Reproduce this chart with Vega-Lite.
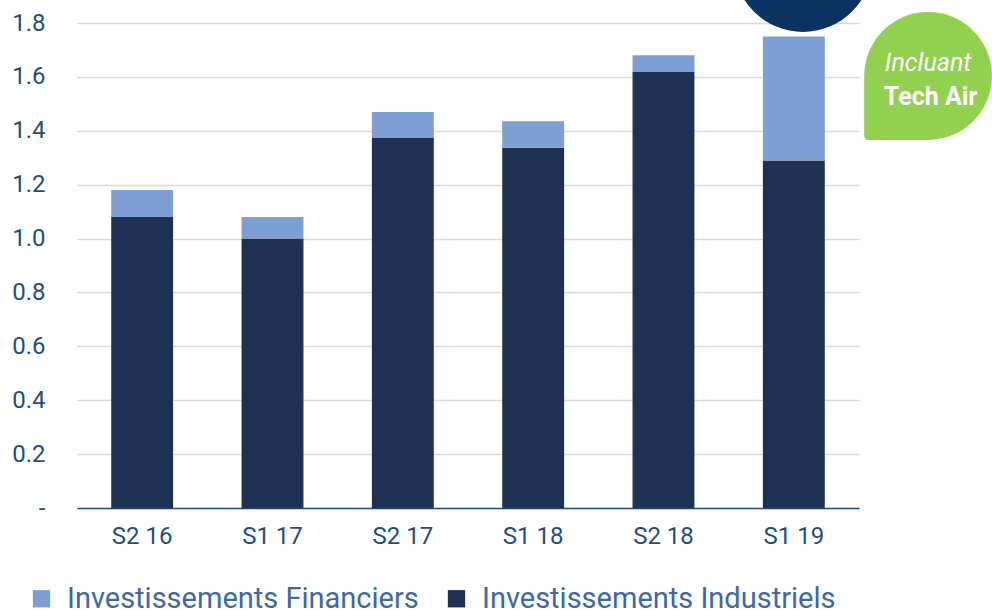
{
  "$schema": "https://vega.github.io/schema/vega-lite/v6.json",
  "width": 782,
  "height": 485,
  "autosize": "none",
  "padding": {"left": 77, "top": 23, "right": 133, "bottom": 102},
  "background": "white",
  "config": {"view": {"stroke": null}, "font": "Roboto"},
  "datasets": {
    "bars": [
      {"period": "S2 16", "type": "Investissements Industriels", "value": 1.08},
      {"period": "S2 16", "type": "Investissements Financiers", "value": 0.10},
      {"period": "S1 17", "type": "Investissements Industriels", "value": 1.00},
      {"period": "S1 17", "type": "Investissements Financiers", "value": 0.08},
      {"period": "S2 17", "type": "Investissements Industriels", "value": 1.375},
      {"period": "S2 17", "type": "Investissements Financiers", "value": 0.095},
      {"period": "S1 18", "type": "Investissements Industriels", "value": 1.337},
      {"period": "S1 18", "type": "Investissements Financiers", "value": 0.098},
      {"period": "S2 18", "type": "Investissements Industriels", "value": 1.62},
      {"period": "S2 18", "type": "Investissements Financiers", "value": 0.06},
      {"period": "S1 19", "type": "Investissements Industriels", "value": 1.29},
      {"period": "S1 19", "type": "Investissements Financiers", "value": 0.46}
    ],
    "badge": [{"x": 6.04, "x2": 7.02, "y": 1.841, "y2": 1.366}],
    "circle": [{"x": 5.57, "y": 2.025}],
    "label1": [{"x": 6.53, "y": 1.652, "text": "Incluant"}],
    "label2": [{"x": 6.55, "y": 1.526, "text": "Tech Air"}]
  },
  "layer": [
    {
      "data": {"name": "bars"},
      "mark": {"type": "bar"},
      "encoding": {
        "x": {
          "field": "period", "type": "nominal", "sort": null,
          "scale": {"paddingInner": 0.525, "paddingOuter": 0.2625},
          "axis": {
            "title": null, "labelAngle": 0, "labelFontSize": 24, "labelColor": "#1F4E79",
            "labelFont": "Roboto", "ticks": false, "domainColor": "#1F4E79", "domainWidth": 1.5,
            "labelPadding": 16
          }
        },
        "y": {
          "field": "value", "type": "quantitative", "aggregate": "sum", "stack": "zero",
          "scale": {"domain": [0, 1.8], "nice": false},
          "axis": {
            "title": null, "values": [0, 0.2, 0.4, 0.6, 0.8, 1.0, 1.2, 1.4, 1.6, 1.8],
            "labelExpr": "datum.value == 0 ? '-' : format(datum.value, '.1f')",
            "labelFontSize": 24, "labelColor": "#1F4E79", "labelFont": "Roboto",
            "domain": false, "ticks": false, "labelPadding": 32,
            "gridColor": "#D9D9D9", "gridWidth": 1.5
          }
        },
        "color": {
          "field": "type", "type": "nominal",
          "scale": {
            "domain": ["Investissements Financiers", "Investissements Industriels"],
            "range": ["#7E9FD4", "#1F3152"]
          },
          "legend": {
            "title": null, "orient": "none", "direction": "horizontal",
            "legendX": -50, "legendY": 561,
            "symbolType": "square", "symbolSize": 300, "symbolStrokeWidth": 0, "symbolOpacity": 1,
            "labelFontSize": 29, "labelColor": "#3F68A6", "labelFont": "Roboto",
            "labelLimit": 600, "columnPadding": 23, "labelOffset": 11
          }
        },
        "order": {"field": "type", "sort": "descending"}
      }
    },
    {
      "data": {"name": "circle"},
      "mark": {"type": "point", "filled": true, "shape": "circle", "size": 19321, "color": "#0A3361", "opacity": 1},
      "encoding": {
        "x": {"field": "x", "type": "quantitative", "scale": {"domain": [0, 6], "nice": false, "zero": false}, "axis": null},
        "y": {"field": "y", "type": "quantitative"}
      }
    },
    {
      "data": {"name": "badge"},
      "mark": {
        "type": "rect", "color": "#92D050",
        "cornerRadiusTopLeft": 64, "cornerRadiusTopRight": 64,
        "cornerRadiusBottomRight": 64, "cornerRadiusBottomLeft": 4
      },
      "encoding": {
        "x": {"field": "x", "type": "quantitative", "scale": {"domain": [0, 6], "nice": false, "zero": false}, "axis": null},
        "x2": {"field": "x2"},
        "y": {"field": "y", "type": "quantitative"},
        "y2": {"field": "y2"}
      }
    },
    {
      "data": {"name": "label1"},
      "mark": {"type": "text", "color": "white", "fontSize": 25, "font": "Roboto", "fontStyle": "italic", "align": "center", "baseline": "middle"},
      "encoding": {
        "x": {"field": "x", "type": "quantitative", "scale": {"domain": [0, 6], "nice": false, "zero": false}, "axis": null},
        "y": {"field": "y", "type": "quantitative"},
        "text": {"field": "text"}
      }
    },
    {
      "data": {"name": "label2"},
      "mark": {"type": "text", "color": "white", "fontSize": 25, "font": "Roboto", "fontWeight": "bold", "align": "center", "baseline": "middle"},
      "encoding": {
        "x": {"field": "x", "type": "quantitative", "scale": {"domain": [0, 6], "nice": false, "zero": false}, "axis": null},
        "y": {"field": "y", "type": "quantitative"},
        "text": {"field": "text"}
      }
    }
  ],
  "resolve": {"scale": {"x": "independent"}}
}
